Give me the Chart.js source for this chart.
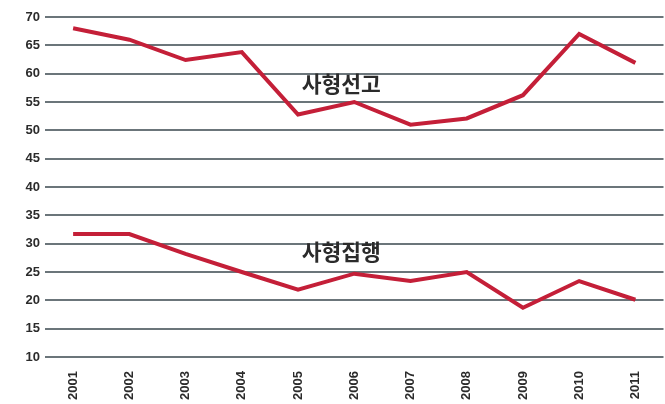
<!DOCTYPE html>
<html>
<head>
<meta charset="utf-8">
<script src="https://cdn.jsdelivr.net/npm/chart.js@4"></script>
<style>
  html, body { margin: 0; padding: 0; background: #ffffff; }
  #wrap { width: 665px; height: 404px; position: relative; }
</style>
</head>
<body>
<div id="wrap"><canvas id="c"></canvas></div>
<script>
const years = ['2001','2002','2003','2004','2005','2006','2007','2008','2009','2010','2011'];
const sentenced = [68, 66, 62.4, 63.8, 52.8, 55, 51, 52.1, 56.2, 67, 61.9];
const executed = [31.7, 31.7, 28.2, 25, 21.9, 24.7, 23.4, 25, 18.7, 23.4, 20.1];
const seriesNames = ['사형선고', '사형집행'];
const yTicks = [10, 15, 20, 25, 30, 35, 40, 45, 50, 55, 60, 65, 70];

const lineColor = '#c41f38';
const gridColor = '#6b757a';
const textColor = '#2b2b2b';
const tickFont = { family: '"Liberation Sans", Arial, sans-serif', size: 13, weight: 'bold' };

const labelPlugin = {
  id: 'seriesLabels',
  afterDatasetsDraw(chart) {
    const { ctx, scales: { x, y } } = chart;
    ctx.save();
    ctx.font = 'bold 21.5px "Noto Sans CJK KR", sans-serif';
    ctx.fillStyle = textColor;
    ctx.textAlign = 'center';
    ctx.textBaseline = 'middle';
    const cx = x.getPixelForValue(5) - 13;
    ctx.fillText(seriesNames[0], cx, y.getPixelForValue(58.2));
    ctx.fillText(seriesNames[1], cx, y.getPixelForValue(28.6));
    ctx.restore();
  }
};

new Chart(document.getElementById('c'), {
  type: 'line',
  data: {
    labels: years,
    datasets: [
      { label: seriesNames[0], data: sentenced, borderColor: lineColor, borderWidth: 4, pointRadius: 0, tension: 0, fill: false },
      { label: seriesNames[1], data: executed, borderColor: lineColor, borderWidth: 4, pointRadius: 0, tension: 0, fill: false }
    ]
  },
  options: {
    responsive: true,
    maintainAspectRatio: false,
    animation: false,
    layout: { padding: { top: 17, right: 0, bottom: 0, left: 0 } },
    plugins: { legend: { display: false }, tooltip: { enabled: false } },
    scales: {
      x: {
        offset: true,
        grid: { display: false, drawTicks: false },
        border: { display: false },
        ticks: { color: textColor, font: tickFont, minRotation: 90, maxRotation: 90, padding: 14, autoSkip: false },
        afterFit(s) { s.height = 47; }
      },
      y: {
        min: 10, max: 70,
        afterBuildTicks(s) { s.ticks = yTicks.map(v => ({ value: v })); },
        grid: { color: gridColor, lineWidth: 2, drawTicks: false },
        border: { display: false },
        ticks: { color: textColor, font: tickFont, padding: 5 },
        afterFit(s) { s.width = 45; }
      }
    }
  },
  plugins: [labelPlugin]
});
</script>
</body>
</html>
